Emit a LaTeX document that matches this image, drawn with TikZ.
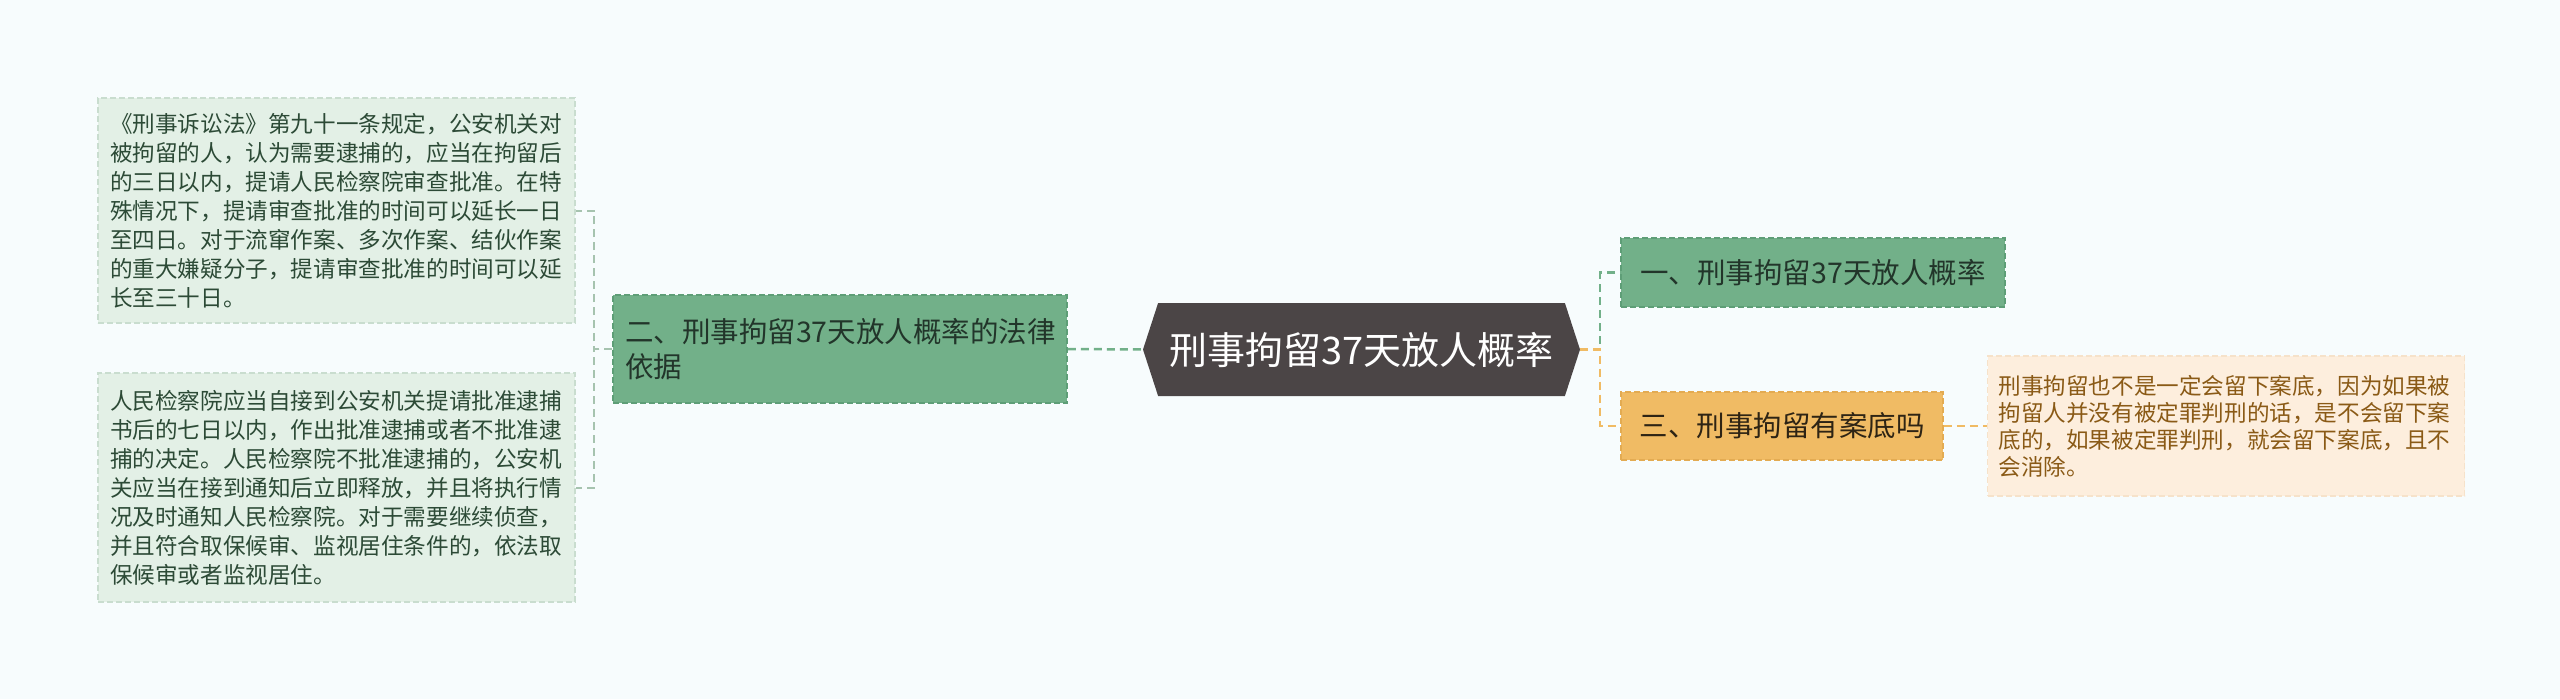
\documentclass[tikz,border=0pt]{standalone}
\usepackage{fontspec}
\setmainfont{Noto Sans CJK SC}
\usetikzlibrary{positioning}
\usetikzlibrary{shapes.symbols}

\definecolor{bgcol}{HTML}{F7FCFD}
\definecolor{rootfill}{HTML}{4B4546}
\definecolor{greenfill}{HTML}{72B089}
\definecolor{greenline}{HTML}{5E9E77}
\definecolor{greentext}{HTML}{22352A}
\definecolor{palegreenfill}{HTML}{E3F0E6}
\definecolor{palegreenline}{HTML}{C9DDCF}
\definecolor{palegreentext}{HTML}{2C4A36}
\definecolor{palegreenlink}{HTML}{A6C3AF}
\definecolor{orangefill}{HTML}{F0BB64}
\definecolor{orangeline}{HTML}{E3AB52}
\definecolor{orangetext}{HTML}{2E2414}
\definecolor{paleorangefill}{HTML}{FDEEDD}
\definecolor{paleorangeline}{HTML}{F6E2CA}
\definecolor{paleorangetext}{HTML}{8A5A16}

\begin{document}
\begin{tikzpicture}[
                x=1pt, y=-1pt,
                darkhexnode/.style={signal, signal to=west and east, signal pointer angle=144, fill=rootfill, text=white, font=\fontsize{38}{44}\selectfont, minimum width=437pt, minimum height=93pt, inner sep=0pt},
                greensquarednode/.style={rectangle, fill=greenfill, draw=greenline, dash pattern=on 6pt off 3pt, line width=1.5pt, text=greentext, font=\fontsize{28.5}{35}\selectfont, align=left, inner xsep=12pt},
                orangesquarednode/.style={rectangle, fill=orangefill, draw=orangeline, dash pattern=on 6pt off 3pt, line width=1.5pt, text=orangetext, font=\fontsize{28.5}{35}\selectfont, align=left, inner xsep=12pt},
                palegreensquarednode/.style={rectangle, fill=palegreenfill, draw=palegreenline, dash pattern=on 6pt off 3pt, line width=1.5pt, text=palegreentext, font=\fontsize{22.6}{29}\selectfont, align=left, text width=453pt, inner xsep=12pt},
                paleorangesquarednode/.style={rectangle, fill=paleorangefill, draw=paleorangeline, dash pattern=on 6pt off 3pt, line width=1.5pt, text=paleorangetext, font=\fontsize{22.6}{27}\selectfont, align=left, text width=455pt, inner xsep=11pt},
                greenlink/.style={draw=greenfill, line width=2.5pt, dash pattern=on 8pt off 5pt},
                palegreenlink/.style={draw=palegreenlink, line width=2pt, dash pattern=on 8pt off 5pt},
                orangelink/.style={draw=orangefill, line width=2.5pt, dash pattern=on 8pt off 5pt},
                ]
                \fill[bgcol] (0,0) rectangle (2560,699);
                \useasboundingbox (0,0) rectangle (2560,699);

                \node[darkhexnode] (root) at (1361.5,349.5) {刑事拘留37天放人概率};

                \node[greensquarednode, text width=430pt, minimum height=108pt] (law) at (840,349) {二、刑事拘留37天放人概率的法律\\依据};
                \node[palegreensquarednode, minimum height=225pt] (lawA) at (336.5,210.5) {《刑事诉讼法》第九十一条规定，公安机关对\\被拘留的人，认为需要逮捕的，应当在拘留后\\的三日以内，提请人民检察院审查批准。在特\\殊情况下，提请审查批准的时间可以延长一日\\至四日。对于流窜作案、多次作案、结伙作案\\的重大嫌疑分子，提请审查批准的时间可以延\\长至三十日。};
                \node[palegreensquarednode, minimum height=229pt] (lawB) at (336.5,487.5) {人民检察院应当自接到公安机关提请批准逮捕\\书后的七日以内，作出批准逮捕或者不批准逮\\捕的决定。人民检察院不批准逮捕的，公安机\\关应当在接到通知后立即释放，并且将执行情\\况及时通知人民检察院。对于需要继续侦查，\\并且符合取保候审、监视居住条件的，依法取\\保候审或者监视居住。};

                \node[greensquarednode, minimum width=384pt, minimum height=69pt] (rate) at (1813,272.5) {一、刑事拘留37天放人概率};
                \node[orangesquarednode, minimum width=322pt, minimum height=68pt] (record) at (1782,426) {三、刑事拘留有案底吗};
                \node[paleorangesquarednode, minimum height=140pt, right=43pt of record] (recordA) {刑事拘留也不是一定会留下案底，因为如果被\\拘留人并没有被定罪判刑的话，是不会留下案\\底的，如果被定罪判刑，就会留下案底，且不\\会消除。};

                \draw[greenlink] (law.east) -- (root.west);
                \draw[palegreenlink] (law.west) -- ++(-18,0) |- (lawA.east);
                \draw[palegreenlink] (law.west) -- ++(-18,0) |- (lawB.east);

                \draw[greenlink] (root.east) -- ++(20,0) |- (rate.west);
                \draw[orangelink] (root.east) -- ++(20,0) |- (record.west);
                \draw[orangelink] (record.east) -- (recordA.west);
            \end{tikzpicture}
\end{document}
